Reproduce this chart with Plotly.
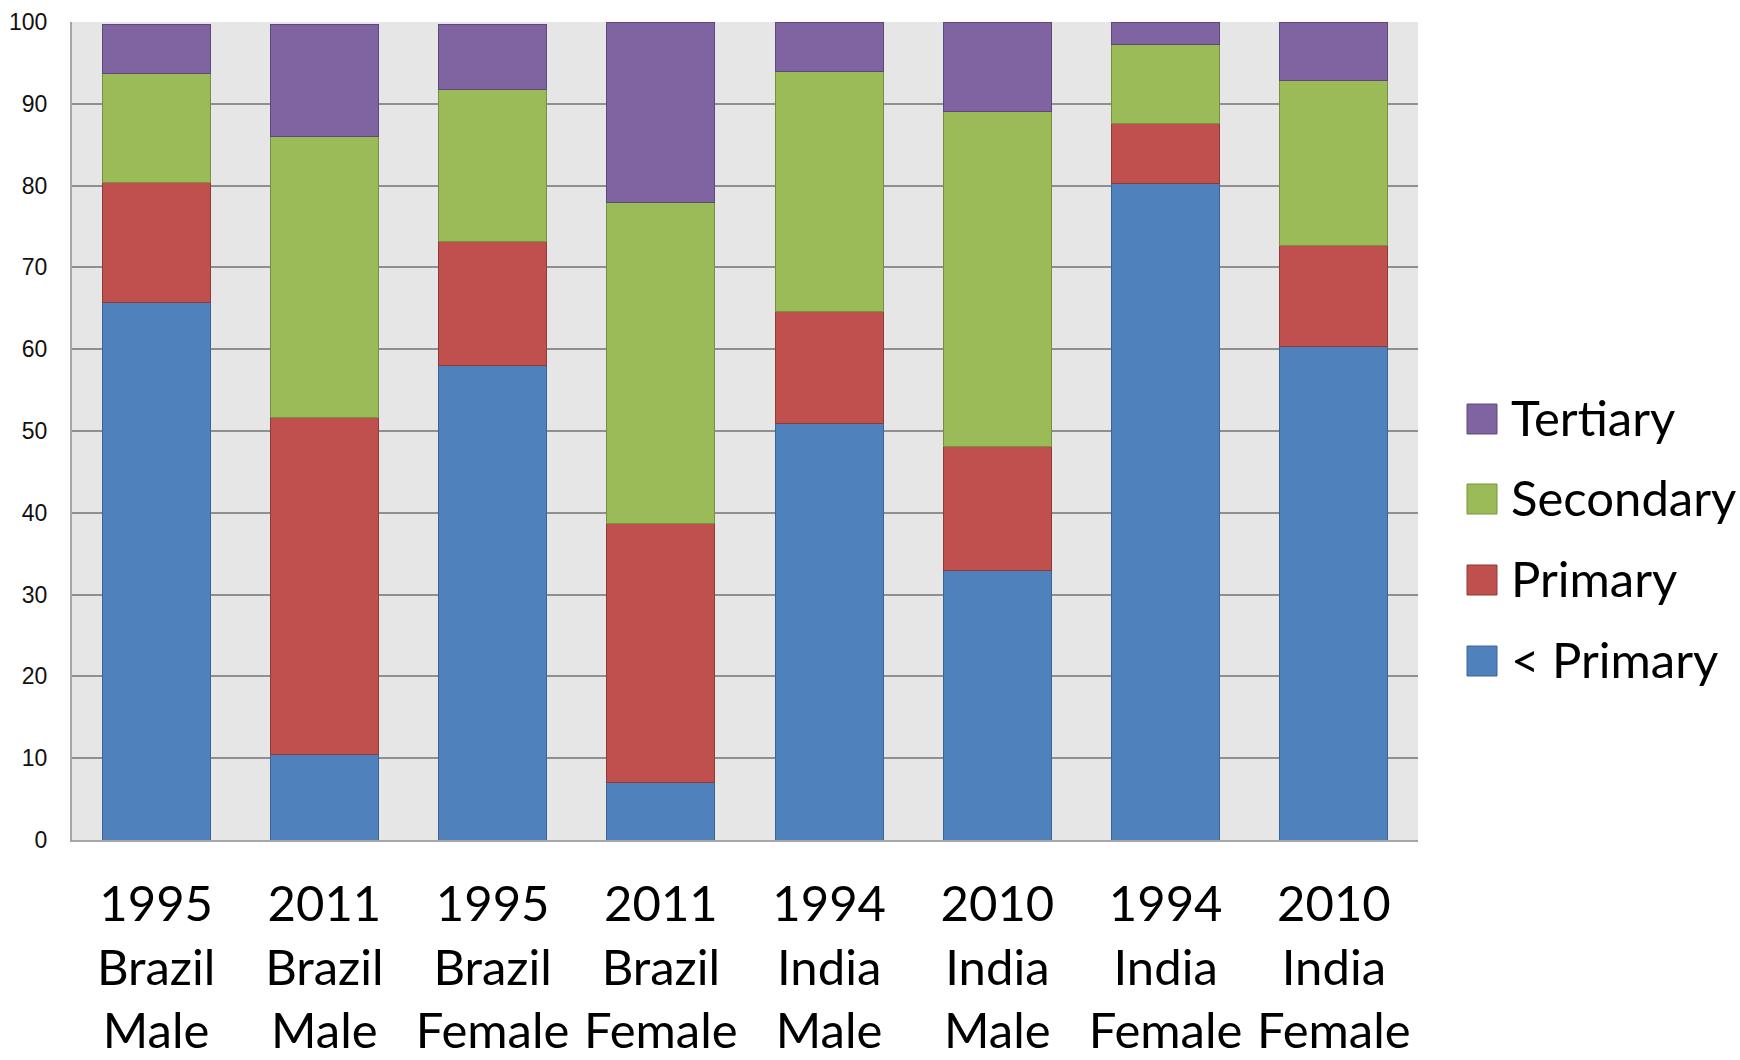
import plotly.graph_objects as go

# Education attainment shares (%) by survey year, country and sex
categories = [
    "1995<br>Brazil<br>Male",
    "2011<br>Brazil<br>Male",
    "1995<br>Brazil<br>Female",
    "2011<br>Brazil<br>Female",
    "1994<br>India<br>Male",
    "2010<br>India<br>Male",
    "1994<br>India<br>Female",
    "2010<br>India<br>Female",
]
below_primary = [65.7, 10.5, 58.0, 7.0, 50.9, 33.0, 80.2, 60.3]
primary = [14.7, 41.2, 15.2, 31.7, 13.7, 15.1, 7.4, 12.4]
secondary = [13.3, 34.3, 18.5, 39.2, 29.4, 40.9, 9.7, 20.2]
tertiary = [6.0, 13.7, 8.0, 22.0, 5.9, 10.9, 2.6, 7.1]

series_names = ["< Primary", "Primary", "Secondary", "Tertiary"]
series_values = [below_primary, primary, secondary, tertiary]
fill_colors = ["#4F81BD", "#C0504D", "#9BBB59", "#8064A2"]
edge_colors = ["#3A6496", "#8E3A38", "#77923F", "#5E4A7A"]

W, H = 1740, 1060
PLOT_L, PLOT_R, PLOT_T, PLOT_B = 72, 1418, 22, 840

fig = go.Figure()
for name, vals, fc, ec in zip(series_names, series_values, fill_colors, edge_colors):
    fig.add_trace(go.Bar(
        x=categories, y=vals, name=name,
        marker=dict(color=fc, line=dict(color=ec, width=1)),
        showlegend=False,
    ))

# Legend drawn with large square swatches, top entry = last stacked series
def px_to_paper_x(px):
    return (px - PLOT_L) / (PLOT_R - PLOT_L)

def px_to_paper_y(py):
    return (PLOT_B - py) / (PLOT_B - PLOT_T)

row_centers = [419, 499, 580, 661]
half = 15
for row, idx in zip(row_centers, [3, 2, 1, 0]):
    fig.add_shape(
        type="rect", xref="paper", yref="paper",
        x0=px_to_paper_x(1467), x1=px_to_paper_x(1497),
        y0=px_to_paper_y(row + half), y1=px_to_paper_y(row - half),
        fillcolor=fill_colors[idx], line=dict(color=edge_colors[idx], width=1),
    )
    fig.add_annotation(
        xref="paper", yref="paper",
        x=px_to_paper_x(1509), y=px_to_paper_y(row - 2),
        text=series_names[idx], showarrow=False,
        xanchor="left", yanchor="middle",
        font=dict(family="Lato", size=49, color="#000000"),
    )

fig.update_layout(
    width=W, height=H,
    barmode="stack",
    bargap=0.358,
    paper_bgcolor="#FFFFFF",
    plot_bgcolor="#E6E6E6",
    margin=dict(l=PLOT_L, r=W - PLOT_R, t=PLOT_T, b=H - PLOT_B, autoexpand=False),
    showlegend=False,
)
fig.update_xaxes(
    showline=True, linecolor="#A6A6A6", linewidth=2,
    showgrid=False, ticks="", automargin=False,
    tickfont=dict(family="Lato", size=49, color="#000000"),
    ticklabelstandoff=20,
)
fig.update_yaxes(
    range=[0, 100], dtick=10, tick0=0, automargin=False,
    showline=True, linecolor="#A6A6A6", linewidth=2,
    showgrid=True, gridcolor="#8F8F8F", gridwidth=1.5,
    zeroline=False, ticks="",
    tickfont=dict(family="Liberation Sans", size=23, color="#111111"),
    ticklabelstandoff=18,
)

fig.write_html("out.html")
